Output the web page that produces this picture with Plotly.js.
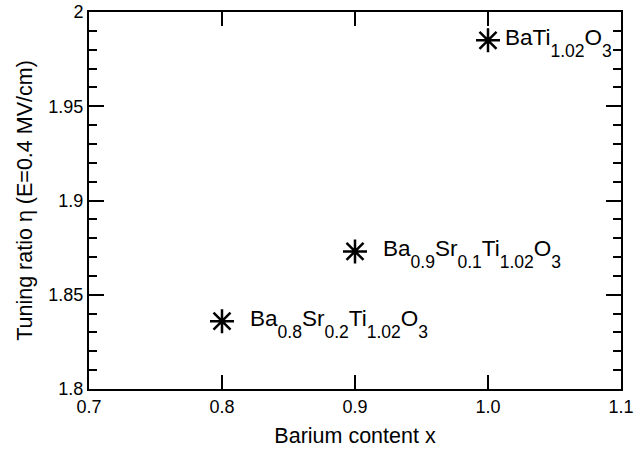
<!DOCTYPE html>
<html>
<head>
<meta charset="utf-8">
<script src="https://cdn.plot.ly/plotly-3.0.1.min.js"></script>
<style>
  html, body { margin: 0; padding: 0; background: #fff; }
  #chart { width: 641px; height: 451px; }
</style>
</head>
<body>
<div id="chart"></div>
<script>
// Barium content and measured tuning ratio at E = 0.4 MV/cm
const bariumContent = [0.8, 0.9, 1.0];
const tuningRatio = [1.836, 1.873, 1.985];
const compositions = [
  'Ba<sub>0.8</sub>Sr<sub>0.2</sub>Ti<sub>1.02</sub>O<sub>3</sub>',
  'Ba<sub>0.9</sub>Sr<sub>0.1</sub>Ti<sub>1.02</sub>O<sub>3</sub>',
  'BaTi<sub>1.02</sub>O<sub>3</sub>'
];
const xTicks = [0.7, 0.8, 0.9, 1.0, 1.1];
const yTicks = [1.8, 1.85, 1.9, 1.95, 2];

const FONT = '"Liberation Sans", Arial, Helvetica, sans-serif';

// gap (px) between each marker and its composition label
const LABEL_GAP = [26, 26, 15];

// subscript styling for the composition labels: larger and lower than Plotly's default
const SUB_SIZE = 0.78;     // fraction of the label font
const SUB_DROP = 0.52;     // baseline drop, in label-font em

const trace = {
  x: bariumContent,
  y: tuningRatio,
  type: 'scatter',
  mode: 'markers',
  marker: {
    symbol: 'asterisk-open',
    size: 20,
    color: '#000',
    line: { color: '#000', width: 2.5 }
  },
  hoverinfo: 'x+y'
};

const annotations = bariumContent.map((x, i) => ({
  x: x,
  y: tuningRatio[i],
  xref: 'x',
  yref: 'y',
  text: compositions[i],
  showarrow: false,
  xanchor: 'left',
  yanchor: 'middle',
  align: 'left',
  xshift: LABEL_GAP[i],
  yshift: 1,
  font: { family: FONT, size: 22.5, color: '#000' }
}));

const axisCommon = {
  showgrid: false,
  zeroline: false,
  showline: true,
  linecolor: '#000',
  linewidth: 2,
  mirror: 'ticks',
  ticks: 'inside',
  tickcolor: '#000',
  tickwidth: 2,
  tickfont: { family: FONT, size: 18, color: '#000' }
};

const layout = {
  width: 641,
  height: 451,
  margin: { l: 89, r: 20, t: 12, b: 62 },
  paper_bgcolor: '#fff',
  plot_bgcolor: '#fff',
  showlegend: false,
  font: { family: FONT, color: '#000' },
  xaxis: Object.assign({}, axisCommon, {
    range: [0.7, 1.1],
    tickvals: xTicks,
    ticktext: xTicks.map(v => v.toFixed(1)),
    ticklen: 14,
    title: { text: 'Barium content x', font: { family: FONT, size: 21.5, color: '#000' }, standoff: 12 }
  }),
  yaxis: Object.assign({}, axisCommon, {
    range: [1.8, 2],
    tickvals: yTicks,
    ticktext: yTicks.map(v => String(v)),
    ticklen: 15,
    minor: { dtick: 0.01, ticks: 'inside', ticklen: 8, tickwidth: 2, tickcolor: '#000', showgrid: false },
    title: { text: 'Tuning ratio η (E=0.4 MV/cm)', font: { family: FONT, size: 21.5, color: '#000' }, standoff: 10 }
  }),
  annotations: annotations
};

function restyleSubscripts(gd) {
  const subEm = SUB_DROP / SUB_SIZE;
  gd.querySelectorAll('.annotation-text tspan').forEach(t => {
    const st = t.getAttribute('style') || '';
    const dy = t.getAttribute('dy');
    if (/font-size:\s*70%/.test(st)) {
      t.setAttribute('style', st.replace(/font-size:\s*70%/, 'font-size:' + Math.round(SUB_SIZE * 100) + '%'));
      if (dy === '0.3em') t.setAttribute('dy', subEm.toFixed(3) + 'em');
    } else if (dy === '0.3em') {
      t.setAttribute('dy', subEm.toFixed(3) + 'em');
    } else if (dy === '-0.21em') {
      t.setAttribute('dy', (-SUB_DROP).toFixed(3) + 'em');
    }
  });
}

Plotly.newPlot('chart', [trace], layout, { displayModeBar: false, staticPlot: true })
  .then(gd => restyleSubscripts(gd));
</script>
</body>
</html>
